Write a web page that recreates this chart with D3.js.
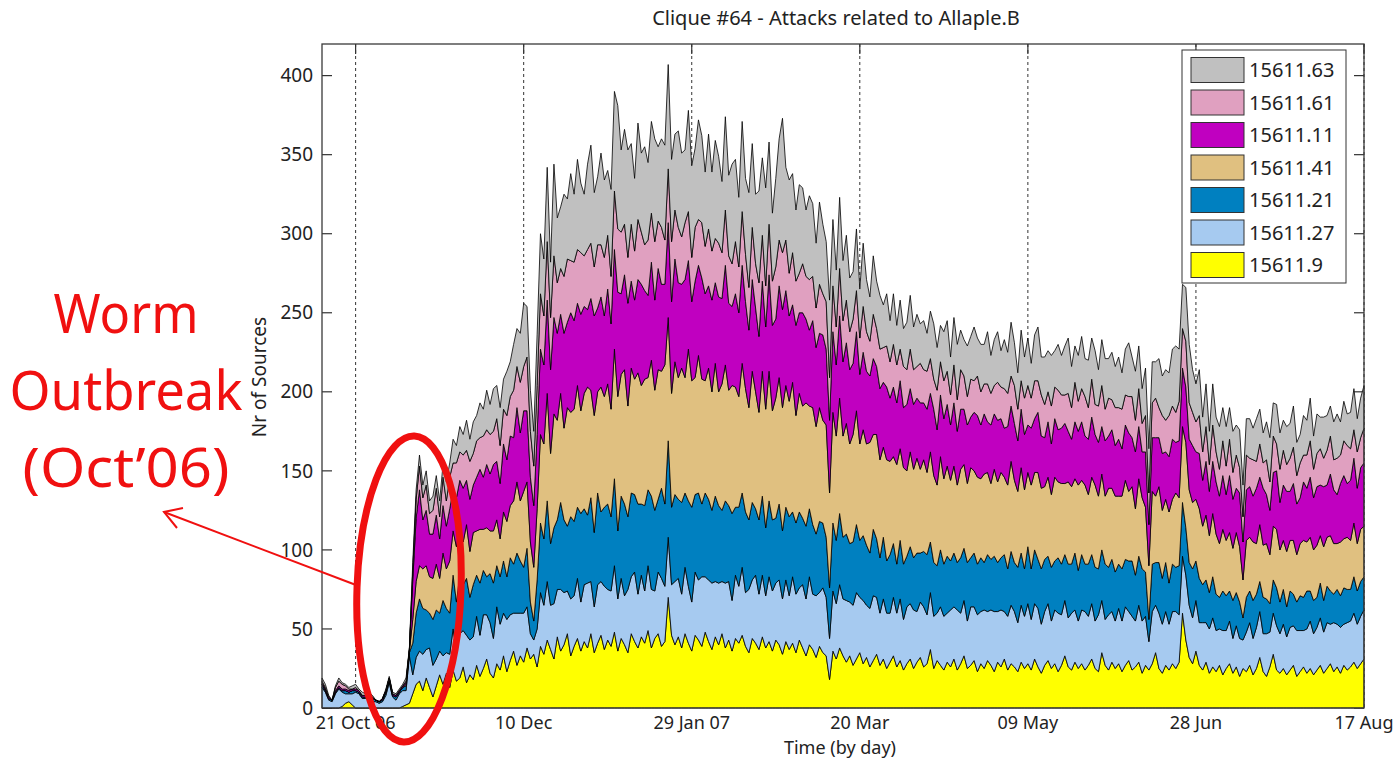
<!DOCTYPE html>
<html>
<head>
<meta charset="utf-8">
<script src="https://cdn.jsdelivr.net/npm/d3@7"></script>
<style>
  body { margin: 0; background: #fff; }
  svg text { font-family: "Noto Sans", "Open Sans", sans-serif; fill: #222; }
</style>
</head>
<body>
<svg id="chart" width="1399" height="764"></svg>
<script>
// Daily counts, first day 11 Oct 2006, last day 17 Aug 2007 (311 days)
const startDate = '2006-10-11';
const endDate = '2007-08-17';

// Series names, bottom of the stack first
const seriesNames = ['15611.9', '15611.27', '15611.21', '15611.41', '15611.11', '15611.61', '15611.63'];

const s15611_9 = [
  0,0,0,0,0,0,1,3,4,2,0,0,0,0,0,0,0,0,0,0,0,0,0,0,1,2,
  3,9,15,17,11,19,13,7,14,21,
  15,22,13,24,17,19,26,16,21,18,
  27,20,25,31,22,19,28,24,33,23,
  30,36,27,33,29,38,31,34,26,39,
  34,43,37,31,45,36,40,47,33,39,
  44,36,42,38,47,35,41,46,37,43,
  39,48,36,44,40,35,47,42,38,45,
  41,49,38,44,47,39,42,70,46,40,
  45,38,47,41,36,46,43,39,48,42,
  37,45,40,47,38,43,36,44,41,46,
  39,35,44,41,37,45,38,42,36,43,
  40,34,42,37,41,35,43,38,33,40,
  37,32,39,35,33,18,36,31,38,33,
  29,33,27,31,35,28,32,26,30,34,
  27,31,25,29,33,26,30,24,28,31,
  25,29,32,26,28,37,25,30,27,24,
  29,26,31,24,28,33,25,27,30,23,
  28,25,30,27,23,29,26,31,24,28,
  26,23,29,25,28,24,31,26,22,27,
  30,25,28,23,27,33,26,24,29,25,
  28,24,27,31,25,23,35,27,24,29,
  25,28,23,27,30,24,26,29,22,27,
  24,28,35,25,22,27,24,28,25,29,
  60,43,32,28,36,27,24,29,22,26,
  23,27,21,25,28,22,26,20,25,23,
  27,21,25,32,23,20,26,34,24,22,
  25,21,24,27,20,23,26,22,25,21,
  24,27,22,25,28,23,26,22,27,24,
  26,29,25,28,31
];

const s15611_27 = [
  13,10,5,4,9,12,9,6,5,7,10,9,6,6,6,4,4,3,4,8,16,7,5,9,10,9,
  30,12,17,19,23,18,25,20,17,15,
  18,13,21,26,19,28,23,30,22,27,
  31,26,34,28,32,25,36,29,27,33,
  29,24,33,27,31,26,16,9,24,34,
  31,37,28,35,30,39,33,27,36,32,
  38,31,36,41,33,29,37,34,40,32,
  35,42,33,38,31,40,36,44,34,39,
  33,41,37,30,39,43,35,38,32,40,
  37,34,42,36,31,40,38,44,35,39,
  42,35,39,33,41,37,32,40,36,43,
  34,40,37,43,35,39,33,41,38,36,
  41,35,39,34,42,37,33,40,36,43,
  35,39,34,41,37,26,38,35,40,36,
  39,34,38,42,35,40,33,37,41,36,
  33,38,35,31,37,34,39,32,36,35,
  37,32,35,38,31,36,33,30,37,34,
  31,36,33,38,32,35,30,37,34,36,
  33,37,31,35,38,32,36,30,34,37,
  35,31,36,33,38,32,35,37,31,34,
  36,30,34,37,32,35,31,36,33,30,
  34,37,31,35,30,36,33,29,35,32,
  30,35,32,37,31,34,29,36,33,31,
  18,33,30,35,31,34,29,33,36,30,
  36,41,33,29,32,27,30,25,28,31,
  26,23,28,24,27,22,26,24,18,25,
  27,23,26,29,24,27,22,26,28,25,
  28,24,27,25,29,26,23,28,30,26,
  27,30,26,29,25,31,27,29,26,30,
  29,31,28,30,31
];

const s15611_21 = [
  2,1,1,1,1,1,1,2,1,2,1,1,1,1,2,2,1,1,1,2,2,1,2,1,2,3,
  2,20,28,33,29,25,22,29,31,24,
  35,28,26,34,31,37,29,36,27,33,
  26,33,28,24,31,35,26,30,33,27,
  36,31,38,33,29,37,20,12,31,44,
  42,51,39,48,44,55,46,41,52,47,
  45,56,48,43,53,47,58,44,50,54,
  47,55,43,52,58,46,53,49,57,45,
  54,48,59,51,46,57,52,61,49,55,
  50,58,47,54,60,49,55,46,53,51,
  46,54,49,45,52,48,55,43,50,47,
  51,44,49,42,47,50,43,48,45,41,
  48,43,46,50,41,45,48,42,46,43,
  44,39,45,41,38,32,43,40,45,39,
  42,37,40,43,36,41,38,35,42,37,
  35,39,33,37,34,31,37,35,32,36,
  33,37,31,35,38,32,34,30,36,33,
  36,31,34,30,35,33,37,31,34,32,
  34,30,36,32,35,31,33,36,30,34,
  31,35,33,30,36,32,34,31,35,33,
  30,34,31,35,32,29,34,31,36,32,
  35,30,33,31,34,29,32,35,30,33,
  31,28,33,30,32,35,29,31,33,28,
  14,30,27,32,29,31,26,30,28,31,
  34,30,27,31,25,28,24,27,23,26,
  23,20,25,22,19,24,21,23,14,22,
  20,24,21,19,23,22,18,21,24,20,
  22,19,23,20,18,22,21,24,19,21,
  19,22,20,23,21,18,22,20,23,21,
  20,23,21,22,21
];

const s15611_41 = [
  0,0,0,0,0,0,0,0,0,0,0,0,0,0,0,0,0,0,0,0,0,0,0,0,0,1,
  1,15,20,21,25,28,23,26,29,22,
  30,25,33,28,35,31,27,34,29,33,
  28,34,26,31,27,33,29,24,31,35,
  33,40,45,38,48,42,38,34,45,56,
  60,68,57,72,63,69,58,75,66,71,
  77,65,73,81,68,74,64,79,70,76,
  68,82,85,77,85,70,79,73,83,75,
  80,71,86,76,82,74,88,78,72,84,
  77,85,73,96,80,74,87,79,71,83,
  75,84,72,80,86,73,81,76,70,82,
  78,71,83,74,68,79,75,82,69,76,
  80,78,77,73,82,68,75,71,78,65,
  74,68,72,65,71,60,70,66,73,64,
  70,63,68,72,61,67,64,70,60,66,
  62,57,64,59,55,63,58,61,54,60,
  56,60,53,58,52,57,55,51,59,54,
  57,51,55,49,56,53,50,57,52,55,
  50,56,52,48,55,51,54,49,53,57,
  52,48,54,50,47,53,49,55,51,46,
  50,46,53,48,51,45,52,49,47,54,
  47,50,44,49,52,46,48,43,50,45,
  48,43,46,50,44,47,42,49,45,41,
  34,46,42,48,43,40,45,41,47,43,
  48,54,46,42,39,44,37,41,36,40,
  38,34,39,35,37,33,38,35,24,36,
  34,37,32,36,33,35,31,34,37,33,
  31,35,32,34,30,33,36,31,34,32,
  33,30,34,31,35,32,29,34,31,33,
  31,34,30,33,32
];

const s15611_11 = [
  1,1,1,0,1,1,1,1,1,1,1,1,1,1,1,1,0,0,1,1,1,1,1,1,1,1,
  1,25,40,48,31,35,27,28,31,25,
  30,27,33,26,31,29,34,28,33,30,
  34,38,33,40,36,42,37,35,43,39,
  44,40,47,43,51,45,41,39,47,54,
  50,59,53,61,55,50,60,54,63,56,
  52,61,55,49,58,63,53,57,51,60,
  54,63,66,51,60,65,55,50,59,64,
  56,52,62,57,64,55,51,60,58,65,
  60,53,62,56,50,61,57,64,55,52,
  58,51,60,54,63,55,50,59,53,62,
  55,49,58,53,48,57,52,61,54,50,
  58,62,60,54,49,57,51,59,53,48,
  55,50,47,54,48,46,51,45,52,47,
  51,47,45,50,44,49,46,42,48,43,
  45,41,46,40,44,39,43,38,42,40,
  41,38,42,36,40,37,42,35,39,38,
  39,35,40,34,38,35,37,32,37,39,
  34,38,32,37,35,39,34,31,37,35,
  36,32,37,35,30,36,34,38,33,31,
  35,32,37,33,35,38,32,30,36,34,
  37,31,35,38,32,34,30,35,33,37,
  32,36,30,35,37,31,36,33,29,35,
  26,34,37,31,36,30,35,38,32,36,
  37,35,32,36,30,35,29,34,28,33,
  33,30,34,29,36,31,28,34,24,32,
  32,29,35,30,36,31,28,34,37,30,
  35,38,31,36,32,29,37,34,38,33,
  37,32,38,33,39,34,31,37,40,34,
  38,41,35,39,40
];

const s15611_61 = [
  1,1,0,0,2,3,3,2,1,0,1,0,0,0,0,0,0,0,0,0,0,0,0,0,0,1,
  0,6,12,15,14,16,13,15,17,14,
  18,16,20,17,22,18,21,19,24,20,
  23,20,26,22,25,21,27,24,22,28,
  25,30,26,32,28,34,29,25,31,35,
  31,37,33,39,32,29,36,40,33,37,
  34,39,32,38,35,31,40,33,37,34,
  30,37,40,39,32,29,36,31,38,33,
  29,35,31,37,30,36,28,34,38,31,
  35,30,36,31,28,34,29,35,30,36,
  31,28,34,29,35,30,27,33,29,34,
  30,27,33,28,34,29,26,32,28,33,
  29,36,32,27,33,28,25,31,27,32,
  28,25,31,26,30,27,29,24,30,26,
  27,24,28,26,23,29,25,22,28,24,
  25,22,26,23,27,24,20,26,22,25,
  22,20,25,21,24,22,19,25,21,24,
  21,19,24,20,25,21,18,24,20,25,
  21,19,24,20,18,24,20,25,21,19,
  24,20,18,23,25,19,24,20,26,21,
  19,24,20,25,21,18,24,20,25,19,
  21,25,20,24,19,23,26,20,24,19,
  24,20,25,19,23,26,20,24,18,23,
  20,22,25,19,24,20,26,21,19,25,
  25,29,23,21,19,24,18,22,17,23,
  19,17,22,18,23,17,21,16,16,22,
  18,23,17,21,16,22,18,23,17,21,
  22,17,21,23,18,22,17,21,23,18,
  21,23,18,22,24,19,23,18,22,24,
  20,18,23,19,22
];

const s15611_63 = [
  2,2,1,0,1,2,1,1,1,2,2,1,2,1,1,1,0,0,0,1,1,1,1,1,1,2,
  1,5,6,7,8,9,8,9,8,10,
  8,12,9,15,11,16,13,19,14,20,
  16,22,17,25,19,27,21,24,19,28,
  22,29,24,31,40,32,26,22,32,38,
  36,47,35,58,41,39,52,38,55,43,
  57,44,39,54,62,47,43,58,49,41,
  55,63,78,52,60,68,51,46,61,50,
  62,49,58,65,47,56,60,66,52,48,
  61,53,46,64,58,50,63,55,47,60,
  50,62,55,45,59,51,63,52,44,57,
  48,60,53,44,58,49,62,52,43,56,
  64,85,46,59,50,45,56,48,42,53,
  46,41,52,44,38,49,42,36,45,38,
  41,34,30,39,31,40,33,28,37,30,
  34,27,33,26,32,25,31,24,30,34,
  27,33,25,31,24,30,35,27,23,31,
  32,24,30,35,25,23,32,27,34,24,
  30,25,33,24,29,32,23,31,26,34,
  27,23,32,26,30,22,29,34,24,30,
  26,32,23,29,25,31,35,26,23,29,
  33,24,30,26,34,23,29,32,25,30,
  26,32,23,29,34,25,31,27,22,30,
  28,26,23,31,25,32,27,36,42,33,
  28,34,37,27,24,29,22,27,21,26,
  22,27,21,25,20,26,19,24,20,23,
  25,20,27,22,19,24,28,21,25,23,
  19,24,22,26,21,18,25,22,27,21,
  25,20,26,22,19,24,28,21,25,20,
  23,26,21,25,27
];

// Axis ticks
const xTickDates = ['2006-10-21', '2006-12-10', '2007-01-29', '2007-03-20', '2007-05-09', '2007-06-28', '2007-08-17'];
const xTickLabels = ['21 Oct 06', '10 Dec', '29 Jan 07', '20 Mar', '09 May', '28 Jun', '17 Aug'];
const yTicks = [0, 50, 100, 150, 200, 250, 300, 350, 400];

// Colours, same order as seriesNames
const seriesColors = ['#ffff00', '#a6caf0', '#0080c0', '#e0c080', '#c000c0', '#e0a0c0', '#c0c0c0'];

function drawChart() {
    const svg = d3.select('#chart');
    const margin = { top: 44, right: 35, bottom: 56, left: 322 };
    const width = 1399;
    const height = 764;
    const innerRight = width - margin.right;
    const innerBottom = height - margin.bottom;

    const parse = d3.utcParse('%Y-%m-%d');
    const start = parse(startDate);
    const seriesValues = [s15611_9, s15611_27, s15611_21, s15611_41, s15611_11, s15611_61, s15611_63];

    // Build rows for d3.stack
    const rows = s15611_9.map((_, i) => {
        const row = { date: d3.utcDay.offset(start, i) };
        seriesNames.forEach((name, k) => { row[name] = seriesValues[k][i]; });
        return row;
    });

    const x = d3.scaleUtc()
        .domain([start, parse(endDate)])
        .range([margin.left, innerRight]);

    const y = d3.scaleLinear()
        .domain([0, 420])
        .range([innerBottom, margin.top]);

    const stacked = d3.stack().keys(seriesNames)(rows);

    // Dotted vertical grid (behind the areas)
    svg.append('g')
        .selectAll('line')
        .data(xTickDates)
        .enter()
        .append('line')
        .attr('x1', d => x(parse(d)))
        .attr('x2', d => x(parse(d)))
        .attr('y1', margin.top)
        .attr('y2', innerBottom)
        .attr('stroke', '#333')
        .attr('stroke-width', 1)
        .attr('stroke-dasharray', '3,3');

    // Inward ticks (MATLAB style, under the data)
    const ticks = svg.append('g').attr('stroke', '#333').attr('stroke-width', 1.2);
    yTicks.forEach(t => {
        ticks.append('line').attr('x1', margin.left).attr('x2', margin.left + 10)
            .attr('y1', y(t)).attr('y2', y(t));
        ticks.append('line').attr('x1', innerRight).attr('x2', innerRight - 10)
            .attr('y1', y(t)).attr('y2', y(t));
    });
    xTickDates.forEach(t => {
        ticks.append('line').attr('x1', x(parse(t))).attr('x2', x(parse(t)))
            .attr('y1', margin.top).attr('y2', margin.top + 10);
    });

    // Stacked areas
    const area = d3.area()
        .x(d => x(d.data.date))
        .y0(d => y(d[0]))
        .y1(d => y(d[1]));

    svg.append('g')
        .selectAll('path')
        .data(stacked)
        .enter()
        .append('path')
        .attr('d', area)
        .attr('fill', (d, i) => seriesColors[i])
        .attr('stroke', '#000')
        .attr('stroke-width', 0.8)
        .attr('stroke-linejoin', 'round');

    // Frame
    svg.append('rect')
        .attr('x', margin.left)
        .attr('y', margin.top)
        .attr('width', innerRight - margin.left)
        .attr('height', innerBottom - margin.top)
        .attr('fill', 'none')
        .attr('stroke', '#3a3a3a')
        .attr('stroke-width', 1.3);

    // Tick labels
    svg.append('g')
        .selectAll('text')
        .data(yTicks)
        .enter()
        .append('text')
        .attr('x', margin.left - 9)
        .attr('y', d => y(d))
        .attr('dy', '0.35em')
        .attr('text-anchor', 'end')
        .attr('font-size', '19px')
        .text(d => d);

    svg.append('g')
        .selectAll('text')
        .data(xTickDates)
        .enter()
        .append('text')
        .attr('x', d => x(parse(d)))
        .attr('y', innerBottom + 15)
        .attr('dy', '0.35em')
        .attr('text-anchor', 'middle')
        .attr('font-size', '18px')
        .text((d, i) => xTickLabels[i]);

    // Title and axis labels
    svg.append('text')
        .attr('x', 836)
        .attr('y', 18)
        .attr('dy', '0.35em')
        .attr('text-anchor', 'middle')
        .attr('font-size', '20px')
        .text('Clique #64 - Attacks related to Allaple.B');

    svg.append('text')
        .attr('x', 840)
        .attr('y', 748)
        .attr('dy', '0.35em')
        .attr('text-anchor', 'middle')
        .attr('font-size', '18px')
        .text('Time (by day)');

    svg.append('text')
        .attr('transform', 'translate(259,377) rotate(-90)')
        .attr('dy', '0.35em')
        .attr('text-anchor', 'middle')
        .attr('font-size', '19px')
        .text('Nr of Sources');

    // Legend, top entry is the top of the stack
    const legend = svg.append('g');
    legend.append('rect')
        .attr('x', 1182).attr('y', 50)
        .attr('width', 164).attr('height', 233)
        .attr('fill', '#fff')
        .attr('stroke', '#333')
        .attr('stroke-width', 1);

    const legendOrder = d3.range(seriesNames.length).reverse();
    legendOrder.forEach((k, row) => {
        const cy = 70 + row * 32.5;
        legend.append('rect')
            .attr('x', 1191).attr('y', cy - 12.5)
            .attr('width', 53).attr('height', 25)
            .attr('fill', seriesColors[k])
            .attr('stroke', '#333')
            .attr('stroke-width', 1);
        legend.append('text')
            .attr('x', 1249).attr('y', cy)
            .attr('dy', '0.35em')
            .attr('font-size', '20px')
            .text(seriesNames[k]);
    });

    // Red annotation
    const note = svg.append('g');
    note.append('ellipse')
        .attr('cx', 409).attr('cy', 589)
        .attr('rx', 52).attr('ry', 153)
        .attr('transform', 'rotate(2,409,589)')
        .attr('fill', 'none')
        .attr('stroke', '#f01010')
        .attr('stroke-width', 7);

    note.append('line')
        .attr('x1', 356).attr('y1', 585)
        .attr('x2', 164).attr('y2', 512)
        .attr('stroke', '#f01010')
        .attr('stroke-width', 2);
    note.append('polyline')
        .attr('points', '183,508 164,512 177,528')
        .attr('fill', 'none')
        .attr('stroke', '#f01010')
        .attr('stroke-width', 2);

    const noteLines = [
        { text: 'Worm', y: 333, len: 145 },
        { text: 'Outbreak', y: 410, len: 233 },
        { text: '(Oct\u201906)', y: 487, len: 207 }
    ];
    noteLines.forEach(l => {
        note.append('text')
            .attr('x', 126)
            .attr('y', l.y)
            .attr('text-anchor', 'middle')
            .attr('font-family', '"Comic Sans MS", "Noto Sans", sans-serif')
            .attr('font-size', '54px')
            .attr('textLength', l.len)
            .attr('lengthAdjust', 'spacingAndGlyphs')
            .style('fill', '#f01010')
            .text(l.text);
    });
}

drawChart();
</script>
</body>
</html>
